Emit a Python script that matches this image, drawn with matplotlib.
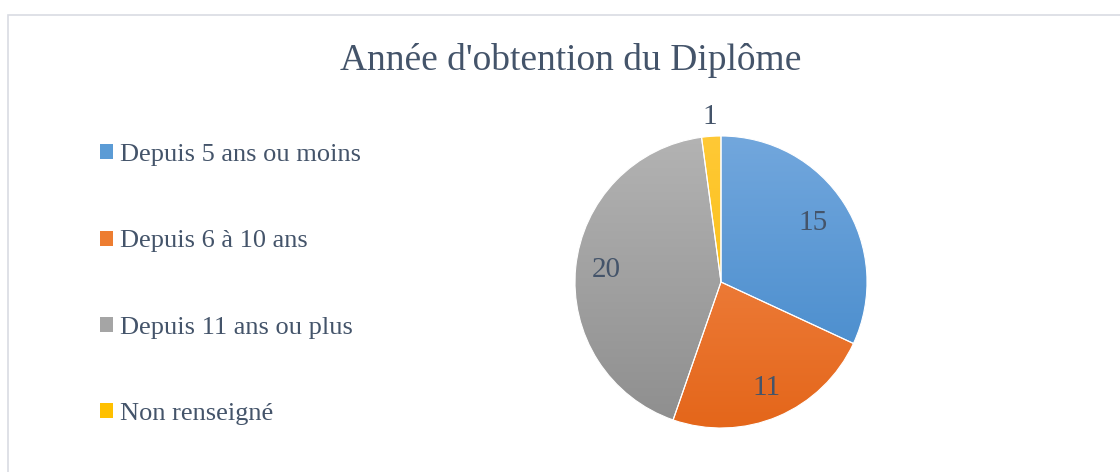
import numpy as np
import matplotlib
matplotlib.use('Agg')
import matplotlib.pyplot as plt
from matplotlib.patches import Rectangle
from matplotlib.colors import LinearSegmentedColormap

# Data
categories = ['Depuis 5 ans ou moins', 'Depuis 6 à 10 ans',
              'Depuis 11 ans ou plus', 'Non renseigné']
values = [15, 11, 20, 1]
title = "Année d'obtention du Diplôme"

# gradient colours (top, bottom) per slice
grad_top = ['#72a7dd', '#f48d52', '#b3b3b3', '#ffc936']
grad_bot = ['#3f86c9', '#e4661a', '#8e8e8e', '#f6b800']
base_col = ['#5b9bd5', '#ed7d31', '#a5a5a5', '#ffc000']
text_col = '#44546a'

plt.rcParams['font.family'] = ['Liberation Serif', 'DejaVu Serif']

W, H = 1120, 472
fig = plt.figure(figsize=(W / 100, H / 100), dpi=100)
fig.patch.set_facecolor('white')

# chart area border
fig.patches.append(Rectangle((8 / W, -0.05), 1.2, (H - 15) / H + 0.05,
                             transform=fig.transFigure, fill=False,
                             edgecolor='#d9dce3', linewidth=1.2))

fig.text(571 / W, 1 - 61 / H, title, ha='center', va='center',
         fontsize=27, color=text_col)

# pie axes
cx, cy, r = 721, 282, 146
ax = fig.add_axes([(cx - r) / W, (H - cy - r) / H, 2 * r / W, 2 * r / H])
wedges, _ = ax.pie(values, colors=base_col, startangle=90, counterclock=False,
                   radius=1, wedgeprops=dict(edgecolor='white', linewidth=0.8))
ax.set_xlim(-1, 1)
ax.set_ylim(-1, 1)

# vertical gradient inside each wedge
for w, c0, c1 in zip(wedges, grad_top, grad_bot):
    cmap = LinearSegmentedColormap.from_list('g', [c1, c0])
    grad = np.linspace(0, 1, 256).reshape(-1, 1)
    im = ax.imshow(grad, cmap=cmap, extent=(-1, 1, -1, 1), origin='lower',
                   aspect='auto', zorder=w.get_zorder() + 0.1)
    im.set_clip_path(w)
    w.set_zorder(w.get_zorder() + 0.2)
    w.set_facecolor('none')

# data labels
label_dist = [0.75, 0.79, 0.79, 1.13]
for w, v, d in zip(wedges, values, label_dist):
    ang = np.deg2rad((w.theta1 + w.theta2) / 2)
    ax.text(d * np.cos(ang), d * np.sin(ang), str(v), ha='center', va='center',
            fontsize=21, color=text_col, zorder=10)

# legend
handles = [Rectangle((0, 0), 1, 1, facecolor=c) for c in base_col]
leg = fig.legend(handles, categories, loc='upper left',
                 bbox_to_anchor=(100 / W, 1 - 144 / H), frameon=False,
                 fontsize=19, labelcolor=text_col, handlelength=0.5,
                 handleheight=0.5, handletextpad=0.25, labelspacing=2.44,
                 borderaxespad=0, borderpad=0)

fig.savefig('out.png', dpi=100)
